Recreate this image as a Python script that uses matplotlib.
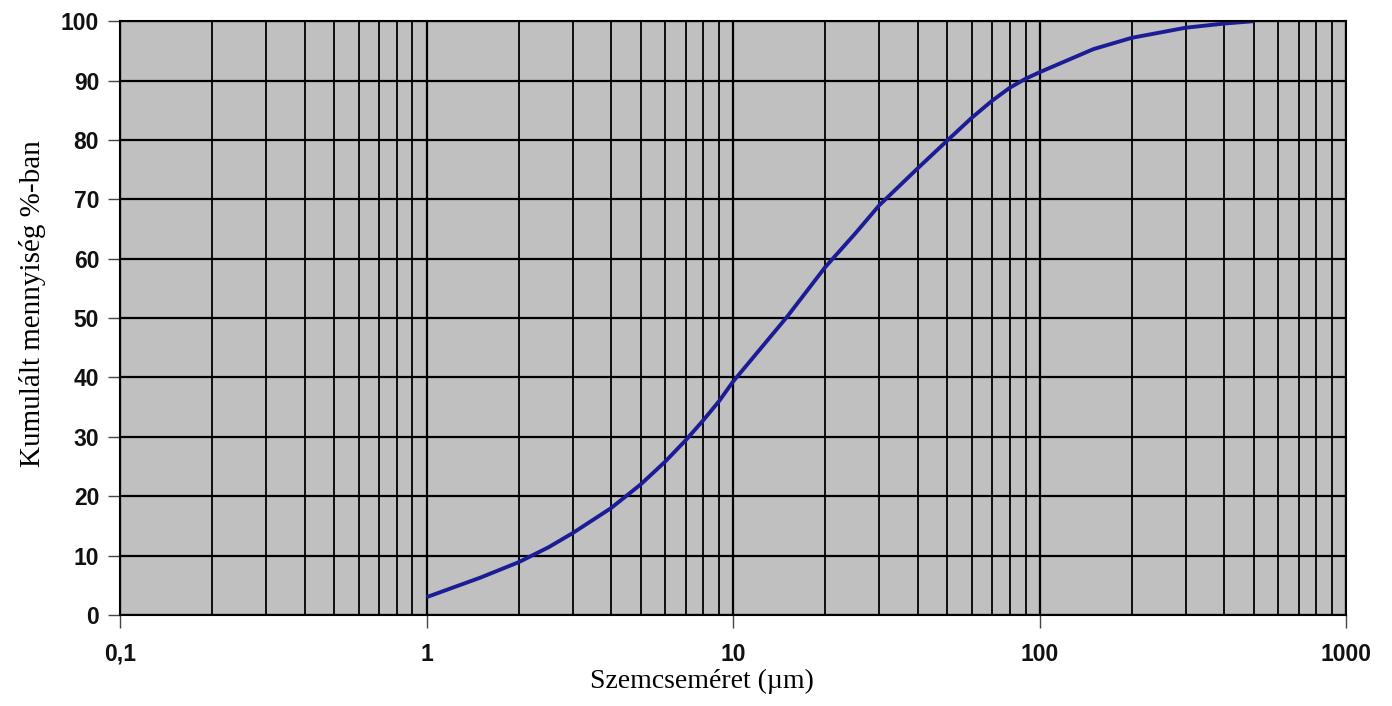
import matplotlib
matplotlib.use("Agg")
import matplotlib.pyplot as plt
from matplotlib.ticker import FixedLocator, FixedFormatter, LogLocator, NullFormatter

# szemcseméret (um) és kumulált mennyiség (%)
size_um = [1, 1.5, 2, 2.5, 3, 4, 5, 6, 7, 8, 9, 10, 12.5, 15, 20, 25, 30, 40, 50,
           60, 70, 80, 90, 100, 150, 200, 300, 400, 500]
cum_pct = [3.0, 6.3, 8.9, 11.4, 13.8, 18.0, 22.0, 25.8, 29.4, 32.8, 36.0, 39.3,
           45.3, 50.2, 58.6, 64.2, 69.0, 75.2, 79.9, 83.7, 86.6, 88.8, 90.3,
           91.4, 95.3, 97.2, 98.9, 99.6, 100.0]

x_ticks = [0.1, 1, 10, 100, 1000]
x_ticklabels = ["0,1", "1", "10", "100", "1000"]
y_ticks = list(range(0, 101, 10))

fig = plt.figure(figsize=(13.92, 7.06), dpi=100)
ax = fig.add_axes([0.0862, 0.1289, 0.8808, 0.8411])
ax.set_facecolor("#c0c0c0")

ax.set_xscale("log")
ax.set_xlim(0.1, 1000)
ax.set_ylim(0, 100)

ax.xaxis.set_major_locator(FixedLocator(x_ticks))
ax.xaxis.set_major_formatter(FixedFormatter(x_ticklabels))
ax.xaxis.set_minor_locator(LogLocator(base=10, subs=range(2, 10)))
ax.xaxis.set_minor_formatter(NullFormatter())
ax.set_yticks(y_ticks)

# rács
ax.grid(which="major", axis="both", color="black", linewidth=1.6)
ax.grid(which="minor", axis="x", color="black", linewidth=1.3)
ax.set_axisbelow(True)

ax.plot(size_um, cum_pct, color="#1c1c96", linewidth=2.8,
        solid_joinstyle="round", solid_capstyle="butt")

for s in ax.spines.values():
    s.set_color("black")
    s.set_linewidth(1.5)

ax.tick_params(which="major", direction="out", length=9, width=1, color="#444444",
               labelsize=16.5, pad=6)
ax.tick_params(axis="x", which="major", pad=11)
ax.tick_params(which="minor", length=0)
for lab in ax.get_xticklabels() + ax.get_yticklabels():
    lab.set_fontfamily("Liberation Sans")
    lab.set_fontweight("bold")
    lab.set_color("#111111")

ax.set_xlabel("Szemcseméret (µm)", fontfamily="Liberation Serif", fontsize=20)
ax.set_ylabel("Kumulált mennyiség %-ban", fontfamily="Liberation Serif", fontsize=21)
ax.xaxis.set_label_coords(0.475, -0.09)
ax.yaxis.set_label_coords(-0.06, 0.524)

fig.savefig("out.png", dpi=100)
